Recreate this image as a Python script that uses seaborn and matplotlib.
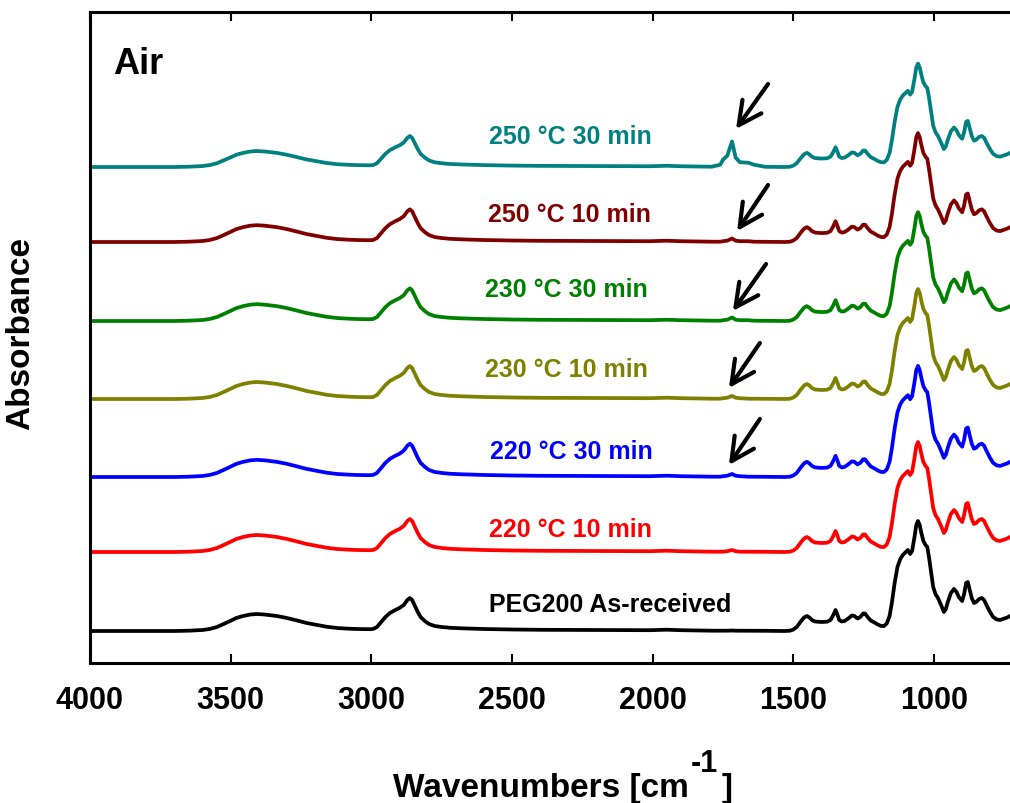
import numpy as np
import pandas as pd
import matplotlib
matplotlib.use("Agg")
import matplotlib.pyplot as plt
import seaborn as sns

# ---- data -------------------------------------------------------------
samples = ["250 °C 30 min", "250 °C 10 min", "230 °C 30 min", "230 °C 10 min",
           "220 °C 30 min", "220 °C 10 min", "PEG200 As-received"]
colors = ["#008080", "#800000", "#008000", "#808000", "#0000ff", "#ff0000", "#000000"]
offsets = [4.96, 4.21, 3.42, 2.64, 1.86, 1.11, 0.32]
scales = [0.94, 0.99, 0.99, 1.0, 1.01, 1.0, 1.0]

# PEG200 reference spectrum (wavenumber in cm-1, absorbance in a.u.)
base_wn = [4000, 3900, 3800, 3700, 3650, 3600, 3575, 3549, 3525, 3502, 3480, 3456,
           3430, 3407, 3380, 3336, 3300, 3264, 3230, 3193, 3160, 3122, 3080, 3051,
           3010, 2994, 2980, 2965, 2950, 2934, 2915, 2900, 2885, 2872, 2863, 2855,
           2845, 2835, 2825, 2810, 2795, 2775, 2750, 2720, 2680, 2600, 2500, 2400,
           2187, 2010, 1950, 1900, 1832, 1790, 1760, 1750, 1735, 1718, 1705, 1690,
           1660, 1640, 1600, 1530, 1512, 1500, 1488, 1475, 1462, 1452, 1443, 1434,
           1423, 1400, 1380, 1368, 1358, 1350, 1343, 1337, 1328, 1318, 1305, 1292,
           1283, 1272, 1262, 1252, 1245, 1236, 1225, 1212, 1200, 1188, 1178, 1168,
           1158, 1150, 1140, 1130, 1120, 1111, 1100, 1093, 1085, 1078, 1070, 1063,
           1057, 1051, 1045, 1038, 1030, 1024, 1018, 1010, 1003, 995, 986, 975,
           965, 958, 951, 940, 929, 920, 912, 900, 893, 886, 880, 874, 866, 858,
           850, 840, 830, 822, 812, 801, 790, 777, 765, 755, 740, 730]
base_abs = [0.0, 0.0, 0.0, 0.0, 0.003, 0.01, 0.02, 0.04, 0.07, 0.10, 0.13, 0.15,
            0.165, 0.17, 0.165, 0.15, 0.13, 0.105, 0.08, 0.06, 0.043, 0.03, 0.023, 0.02,
            0.018, 0.02, 0.04, 0.09, 0.14, 0.18, 0.21, 0.23, 0.26, 0.31, 0.33, 0.31,
            0.25, 0.19, 0.14, 0.10, 0.07, 0.05, 0.04, 0.032, 0.027, 0.02, 0.015, 0.012,
            0.01, 0.008, 0.013, 0.008, 0.005, 0.003, 0.003, 0.003, 0.003, 0.005, 0.003, 0.003,
            0.003, 0.003, 0.002, 0.0, 0.003, 0.015, 0.04, 0.09, 0.135, 0.15, 0.135, 0.11,
            0.095, 0.09, 0.093, 0.11, 0.16, 0.21, 0.16, 0.11, 0.095, 0.10, 0.125, 0.155,
            0.15, 0.125, 0.14, 0.175, 0.175, 0.14, 0.105, 0.085, 0.065, 0.05, 0.05, 0.075,
            0.15, 0.28, 0.48, 0.64, 0.72, 0.76, 0.79, 0.81, 0.77, 0.80, 0.93, 1.06,
            1.10, 1.06, 0.98, 0.90, 0.86, 0.84, 0.74, 0.58, 0.44, 0.37, 0.33, 0.26,
            0.19, 0.22, 0.29, 0.38, 0.42, 0.39, 0.34, 0.30, 0.37, 0.48, 0.49, 0.42,
            0.33, 0.28, 0.29, 0.32, 0.33, 0.31, 0.25, 0.19, 0.14, 0.115, 0.11, 0.12,
            0.135, 0.15]

# carbonyl band that grows with heat treatment
carbonyl_wn = [1760, 1750, 1735, 1718, 1705, 1690, 1660, 1640]
carbonyl_abs = [
    [0.02, 0.07, 0.11, 0.25, 0.09, 0.045, 0.04, 0.02],
    [0.0, 0.005, 0.01, 0.03, 0.01, 0.005, 0.005, 0.0],
    [0.0, 0.005, 0.01, 0.03, 0.01, 0.005, 0.005, 0.0],
    [0.0, 0.005, 0.01, 0.025, 0.01, 0.005, 0.0, 0.0],
    [0.0, 0.005, 0.01, 0.025, 0.01, 0.005, 0.0, 0.0],
    [0.0, 0.0, 0.005, 0.015, 0.005, 0.0, 0.0, 0.0],
    [0.0, 0.0, 0.0, 0.0, 0.0, 0.0, 0.0, 0.0],
]

# ---- long-form table ---------------------------------------------------
base = pd.DataFrame({"wavenumber": base_wn, "abs": base_abs})
frames = []
for name, off, sc, extra in zip(samples, offsets, scales, carbonyl_abs):
    band = pd.DataFrame({"wavenumber": carbonyl_wn, "band": extra})
    d = base.merge(band, on="wavenumber", how="left").fillna({"band": 0.0})
    d["absorbance"] = off + sc * d["abs"] + d["band"]
    d["sample"] = name
    frames.append(d)
df = pd.concat(frames, ignore_index=True)

# ---- figure -----------------------------------------------------------
sns.set_style("white")
plt.rcParams["font.family"] = ["Liberation Sans", "DejaVu Sans"]
plt.rcParams["font.weight"] = "bold"
plt.rcParams["text.color"] = "black"
plt.rcParams["axes.labelcolor"] = "black"
plt.rcParams["xtick.color"] = "black"
plt.rcParams["ytick.color"] = "black"

fig = plt.figure(figsize=(10.1, 8.04), dpi=100)
ax = fig.add_axes([90 / 1010, 140 / 804, 920 / 1010, 651 / 804])

sns.lineplot(data=df, x="wavenumber", y="absorbance", hue="sample",
             hue_order=samples, palette=dict(zip(samples, colors)),
             estimator=None, sort=False, linewidth=2.7, legend=False, ax=ax,
             solid_joinstyle="round", solid_capstyle="round")

ax.set_xlim(4000, 730)
ax.set_ylim(0, 6.51)
ax.set_xticks([4000, 3500, 3000, 2500, 2000, 1500, 1000])
ax.set_yticks([])
ax.tick_params(axis="x", which="both", direction="in", length=6.5, width=1.5,
               labelsize=22, pad=16, top=True, bottom=True, labeltop=False,
               colors="black")
for lab in ax.get_xticklabels():
    lab.set_fontweight("bold")
ax.set_xlabel("")
ax.set_ylabel("")
for side in ("left", "top", "bottom"):
    ax.spines[side].set_linewidth(2.2)
    ax.spines[side].set_color("black")
ax.spines["right"].set_visible(False)

# sample labels above each trace
label_x = [2294, 2297, 2308, 2308, 2290, 2294, 2152]
label_y = [5.27, 4.49, 3.74, 2.94, 2.12, 1.34, 0.59]
for name, c, lx, ly in zip(samples, colors, label_x, label_y):
    ax.text(lx, ly, name, color=c, fontsize=18, fontweight="bold",
            ha="center", va="center")

# arrows pointing at the C=O band
arrow_tail = [(1590, 5.79), (1590, 4.78), (1597, 3.99), (1619, 3.20), (1619, 2.44)]
arrow_tip = [(1704, 5.34), (1700, 4.32), (1715, 3.52), (1729, 2.75), (1729, 1.98)]
for tail, tip in zip(arrow_tail, arrow_tip):
    ax.annotate("", xy=tip, xytext=tail,
                arrowprops=dict(arrowstyle="->,head_length=0.75,head_width=0.38",
                                lw=3, color="black", mutation_scale=22,
                                shrinkA=0, shrinkB=0))

ax.text(0.025, 0.906, "Air", transform=ax.transAxes, fontsize=26,
        fontweight="bold", ha="left", va="baseline", color="black")

fig.text(21 / 1010, 1 - 333 / 804, "Absorbance", rotation=90, fontsize=24,
         fontweight="bold", ha="center", va="center", color="black")

# x-axis title with a full-size raised exponent
renderer = fig.canvas.get_renderer()
t1 = fig.text(393 / 1010, 7 / 804, "Wavenumbers [cm", fontsize=24,
              fontweight="bold", ha="left", va="baseline", color="black")
bb = t1.get_window_extent(renderer)
t2 = fig.text((bb.x1 + 2) / 1010, 32 / 804, "-1", fontsize=22,
              fontweight="bold", ha="left", va="baseline", color="black")
bb2 = t2.get_window_extent(renderer)
fig.text((bb2.x1 + 3) / 1010, 7 / 804, "]", fontsize=24,
         fontweight="bold", ha="left", va="baseline", color="black")

fig.savefig("out.png", dpi=100)
